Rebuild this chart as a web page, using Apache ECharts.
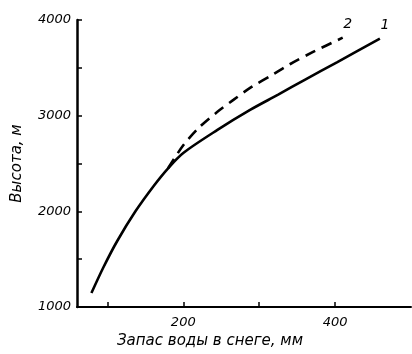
<!DOCTYPE html>
<html>
<head>
<meta charset="utf-8">
<script src="https://cdn.jsdelivr.net/npm/echarts@6/dist/echarts.min.js"></script>
<style>html,body{margin:0;padding:0;background:#fff}#c{width:412px;height:354px}</style>
</head>
<body>
<div id="c"></div>
<script>
var xTitle = 'Запас воды в снеге, мм';
var yTitle = 'Высота, м';
var xTicks = [100, 200, 300, 400];
var xLabels = [200, 400];
var curve1X = [79, 95, 113, 137, 161, 180, 200, 245, 288, 325, 360, 403, 459];
var curve1Y = [1146, 1418, 1690, 2000, 2265, 2450, 2610, 2851, 3060, 3220, 3375, 3560, 3805];
var curve2X = [180, 200, 222, 245, 266, 288, 320, 341, 371, 410];
var curve2Y = [2450, 2690, 2885, 3040, 3165, 3290, 3440, 3540, 3666, 3815];
var curveNames = ['1', '2'];

function pts(xs, ys) {
  return xs.map(function (x, i) { return [x, ys[i]]; });
}

var font = 'DejaVu Sans';
var endLbl = function (name) {
  return { show: true, formatter: name, fontStyle: 'italic', fontSize: 14, color: '#000',
    fontFamily: font, align: 'center', verticalAlign: 'bottom', offset: [-3, -6] };
};
var chart = echarts.init(document.getElementById('c'), null, { renderer: 'canvas' });
chart.setOption({
  animation: false,
  backgroundColor: '#fff',
  grid: { left: 77, top: 20, right: 1, bottom: 47 },
  xAxis: {
    type: 'value', min: 60, max: 500,
    name: xTitle, nameLocation: 'middle', nameGap: 27,
    nameTextStyle: { fontStyle: 'italic', fontSize: 15, color: '#000', fontFamily: font, padding: [0, 68, 0, 0] },
    axisLine: { show: true, onZero: false, lineStyle: { color: '#000', width: 2 } },
    axisTick: { show: true, inside: true, length: 5, customValues: xTicks, lineStyle: { color: '#000', width: 1.5 } },
    axisLabel: { customValues: xLabels, fontStyle: 'italic', fontSize: 13, color: '#000', fontFamily: font, margin: 9 },
    splitLine: { show: false }
  },
  yAxis: {
    type: 'value', min: 1000, max: 4000, interval: 500,
    name: yTitle, nameLocation: 'middle', nameGap: 52, nameRotate: 90,
    nameTextStyle: { fontStyle: 'italic', fontSize: 15, color: '#000', fontFamily: font },
    axisLine: { show: true, onZero: false, lineStyle: { color: '#000', width: 2.5 } },
    axisTick: { show: true, inside: true, length: 5, lineStyle: { color: '#000', width: 1.5 } },
    axisLabel: { fontStyle: 'italic', fontSize: 13, color: '#000', fontFamily: font, margin: 6,
      formatter: function (v) { return v % 1000 === 0 ? String(v) : ''; } },
    splitLine: { show: false }
  },
  series: [
    { type: 'line', name: curveNames[0], data: pts(curve1X, curve1Y), smooth: 0.3,
      showSymbol: false, symbol: 'none', lineStyle: { color: '#000', width: 2.6 }, endLabel: endLbl(curveNames[0]) },
    { type: 'line', name: curveNames[1], data: pts(curve2X, curve2Y), smooth: 0.3,
      showSymbol: false, symbol: 'none', lineStyle: { color: '#000', width: 2.6, type: [11, 7] }, endLabel: endLbl(curveNames[1]) }
  ]
});
</script>
</body>
</html>
